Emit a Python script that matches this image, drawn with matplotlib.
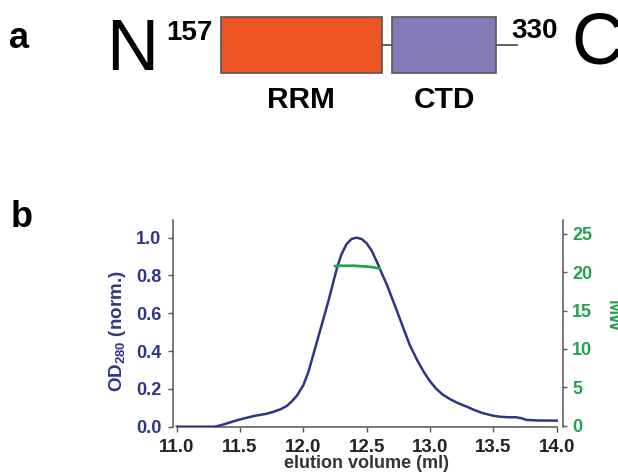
import numpy as np
import matplotlib
matplotlib.use("Agg")
import matplotlib.pyplot as plt

plt.rcParams['font.family'] = ['Liberation Sans', 'DejaVu Sans']
plt.rcParams['font.weight'] = 'bold'
plt.rcParams['mathtext.fontset'] = 'custom'
plt.rcParams['mathtext.rm'] = 'Liberation Sans'
plt.rcParams['mathtext.bf'] = 'Liberation Sans:bold'

# domain architecture of the construct (residue numbers)
chain_start, chain_end = 157, 330
domain_names = ['RRM', 'CTD']
domain_starts = [157, 257]
domain_ends = [251, 318]
domain_colors = ['#ee5523', '#867ab9']

# size exclusion trace, normalised OD280
elution_ml = [11.0, 11.1, 11.2, 11.3, 11.35, 11.4, 11.47, 11.55, 11.62, 11.7,
              11.76, 11.82, 11.87, 11.91, 11.95, 12.0, 12.04, 12.08, 12.12, 12.16,
              12.2, 12.24, 12.27, 12.3, 12.34, 12.38, 12.42, 12.46, 12.5, 12.54,
              12.58, 12.62, 12.66, 12.7, 12.74, 12.79, 12.84, 12.9, 12.95, 13.0,
              13.05, 13.1, 13.16, 13.22, 13.29, 13.35, 13.42, 13.5, 13.55, 13.62,
              13.68, 13.72, 13.76, 13.85, 14.0]
od280 = [0.0, 0.0, 0.0, 0.0, 0.008, 0.018, 0.033, 0.047, 0.058, 0.067,
         0.078, 0.092, 0.11, 0.135, 0.165, 0.22, 0.29, 0.385, 0.48, 0.575,
         0.67, 0.775, 0.85, 0.91, 0.965, 0.993, 1.0, 0.993, 0.97, 0.93,
         0.873, 0.81, 0.75, 0.68, 0.61, 0.52, 0.432, 0.35, 0.29, 0.24,
         0.2, 0.17, 0.145, 0.125, 0.106, 0.088, 0.071, 0.058, 0.053, 0.05,
         0.05, 0.045, 0.036, 0.033, 0.032]

# MALS molar mass across the peak (kDa)
mw_ml = [12.25, 12.3, 12.35, 12.4, 12.45, 12.5, 12.55, 12.6]
mw_kda = [20.8, 20.85, 20.85, 20.85, 20.8, 20.75, 20.65, 20.5]

od_ticks = [0.0, 0.2, 0.4, 0.6, 0.8, 1.0]
mw_ticks = [0, 5, 10, 15, 20, 25]
x_ticks = [11.0, 11.5, 12.0, 12.5, 13.0, 13.5, 14.0]

navy = '#2e3589'
green = '#22a24c'
grey = '#555555'

W, H = 618, 473
fig = plt.figure(figsize=(W / 100, H / 100), dpi=100)

# ---- a: domain cartoon ----
axa = fig.add_axes([0, 1 - 130 / H, 1, 130 / H])
px_per_res = 296 / (chain_end - chain_start)
axa.set_xlim(chain_start - 220.7 / px_per_res, chain_start + (W - 220.7) / px_per_res)
axa.set_ylim(130, 0)
axa.axis('off')

axa.plot([chain_start, chain_end], [45, 45], color=grey, lw=1.3, zorder=1)
axa.barh([45] * len(domain_names), np.subtract(domain_ends, domain_starts),
         left=domain_starts, height=55.4, color=domain_colors,
         edgecolor=grey, linewidth=1.2, zorder=2)
for name, s, e in zip(domain_names, domain_starts, domain_ends):
    axa.text((s + e) / 2, 108, name, ha='center', va='baseline',
             fontsize=21.5, fontweight='bold')

axa.text(chain_start - 52, 70, 'N', ha='center', va='baseline',
         fontsize=52, fontweight='normal')
axa.text(chain_start - 18, 40, str(chain_start), ha='center', va='baseline',
         fontsize=20, fontweight='bold')
axa.text(chain_end + 10.7, 38, str(chain_end), ha='center', va='baseline',
         fontsize=20, fontweight='bold')
axa.text(chain_end + 32, 64, 'C', ha='left', va='baseline',
         fontsize=52, fontweight='normal')

fig.text(9.5 / W, 1 - 48 / H, 'a', fontsize=26, fontweight='bold', va='baseline')
fig.text(10.5 / W, 1 - 227 / H, 'b', fontsize=26, fontweight='bold', va='baseline')

# ---- b: SEC-MALS ----
ax = fig.add_axes([172.7 / W, (H - 426.7) / H, (562.5 - 172.7) / W, (426.7 - 219.5) / H])
ax.plot(elution_ml, od280, color=navy, lw=1.8, zorder=3)
ax.set_xlim(11 - 4 / 126.7, 14 + 5.8 / 126.7)
ax.set_ylim(0, 1.096)
ax.set_xticks(x_ticks)
ax.set_xticklabels([f'{t:.1f}' for t in x_ticks])
ax.set_yticks(od_ticks)
ax.set_yticklabels([f'{t:.1f}' for t in od_ticks])
for side in ['top', 'right']:
    ax.spines[side].set_visible(False)
for side in ['left', 'bottom']:
    ax.spines[side].set_color(grey)
    ax.spines[side].set_linewidth(1.1)
ax.spines['bottom'].set_bounds(11, 14)
ax.tick_params(axis='x', length=3.5, width=1, color=grey, pad=5,
               labelsize=13.5, labelcolor='#222222')
ax.tick_params(axis='y', length=3.5, width=1, color=grey, pad=4.5,
               labelsize=13, labelcolor=navy)
ax.set_ylabel(r'$\mathbf{OD_{280}}$ (norm.)', fontsize=13.5, fontweight='bold', color=navy)
ax.yaxis.set_label_coords(-0.115, 0.462)
ax.set_xlabel('elution volume (ml)', fontsize=13, fontweight='bold', color='#333333')
ax.xaxis.set_label_coords(0.497, -0.138)

ax2 = ax.twinx()
ax2.plot(mw_ml, mw_kda, color=green, lw=2, zorder=4)
ax2.set_ylim(-0.13, 26.88)
ax2.set_yticks(mw_ticks)
for side in ['top', 'left', 'bottom']:
    ax2.spines[side].set_visible(False)
ax2.spines['right'].set_color(grey)
ax2.spines['right'].set_linewidth(1.1)
ax2.tick_params(axis='y', length=3, width=1, color=grey, pad=4,
                labelsize=13, labelcolor=green)
fig.text(604 / W, 1 - 316 / H, 'MW', rotation=270, ha='left', va='center',
         fontsize=13, fontweight='bold', color=green)

fig.savefig('out.png', dpi=100)
